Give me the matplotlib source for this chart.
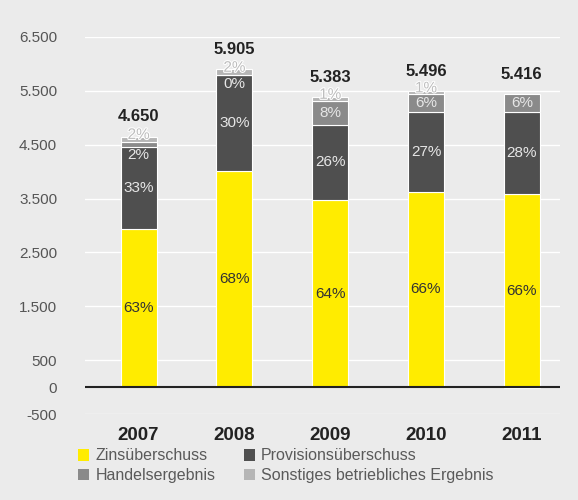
import numpy as np
import matplotlib
matplotlib.use("Agg")
import matplotlib.pyplot as plt
import matplotlib.patheffects as pe

plt.rcParams['font.family'] = ['Liberation Sans', 'DejaVu Sans']

# Ertragskomponenten in Mio. EUR
years = ['2007', '2008', '2009', '2010', '2011']
zins = [2930, 4015, 3465, 3627, 3580]
provision = [1535, 1772, 1410, 1484, 1530]
handel = [93, 10, 440, 330, 326]
sonstige = [92, 108, 68, 55, -20]
totals = [4650, 5905, 5383, 5496, 5416]

series = [
    ('Zinsüberschuss', zins, '#ffec00', '#333333'),
    ('Provisionsüberschuss', provision, '#4f4f4f', '#e6e6e6'),
    ('Handelsergebnis', handel, '#8a8a8a', '#e6e6e6'),
    ('Sonstiges betriebliches Ergebnis', sonstige, '#b5b5b5', '#bdbdbd'),
]

bg = '#ebebeb'
fig = plt.figure(figsize=(5.78, 5.0), dpi=100, facecolor=bg)
ax = fig.add_axes([0.147, 0.172, 0.822, 0.754], facecolor=bg)

x = np.arange(len(years))
w = 0.375
pos_bottom = np.zeros(len(years))
neg_bottom = np.zeros(len(years))
handles = {}

for name, vals, color, tcolor in series:
    vals = np.array(vals, dtype=float)
    bottom = np.where(vals >= 0, pos_bottom, neg_bottom)
    bars = ax.bar(x, vals, w, bottom=bottom, color=color, edgecolor='white',
                  linewidth=0.8, zorder=2, label=name)
    handles[name] = bars
    for i, v in enumerate(vals):
        pct = round(v / totals[i] * 100)
        if v <= 0 and name != 'Handelsergebnis':
            continue
        label = f'{pct}%'
        if name == 'Sonstiges betriebliches Ergebnis':
            ax.annotate(label, (x[i], bottom[i] + v / 2), xytext=(0, 3),
                        textcoords='offset points', ha='center', va='center',
                        fontsize=11, color=tcolor, zorder=4,
                        path_effects=[pe.withStroke(linewidth=1.5, foreground='white')])
        elif v < 200:
            ax.annotate(label, (x[i], bottom[i]), xytext=(0, -1),
                        textcoords='offset points', ha='center', va='top',
                        fontsize=11, color=tcolor, zorder=4)
        else:
            ax.text(x[i], bottom[i] + v / 2, label, ha='center', va='center',
                    fontsize=11, color=tcolor, zorder=4)
    pos_bottom = pos_bottom + np.where(vals >= 0, vals, 0)
    neg_bottom = neg_bottom + np.where(vals < 0, vals, 0)

# Summen über den Balken
for i, t in enumerate(totals):
    ax.annotate(f'{t:,}'.replace(',', '.'), (x[i], max(pos_bottom[i], t)),
                xytext=(0, 9), textcoords='offset points', ha='center', va='bottom',
                fontsize=12, fontweight='bold', color='#222222')

yticks = [-500, 0, 500, 1500, 2500, 3500, 4500, 5500, 6500]
ax.set_ylim(-500, 6500)
ax.set_yticks(yticks)
ax.set_yticklabels([f'{v:,}'.replace(',', '.') for v in yticks], fontsize=11, color='#555555')
ax.set_xlim(-0.56, 4.4)
ax.set_xticks(x)
ax.set_xticklabels(years, fontsize=13.5, fontweight='bold', color='#222222')
ax.tick_params(axis='y', length=0, pad=20)
ax.tick_params(axis='x', length=0, pad=9)
for s in ax.spines.values():
    s.set_visible(False)
for v in yticks:
    if v == 0:
        ax.axhline(0, color='#222222', linewidth=1.5, zorder=3)
    else:
        ax.axhline(v, color='white', linewidth=1.0, zorder=1)

order = ['Zinsüberschuss', 'Handelsergebnis', 'Provisionsüberschuss',
         'Sonstiges betriebliches Ergebnis']
leg = fig.legend([handles[n] for n in order], order, loc='upper left',
                 bbox_to_anchor=(0.135, 0.103), ncol=2, frameon=False,
                 fontsize=11.5, handlelength=0.7, handleheight=0.7,
                 handletextpad=0.4, columnspacing=1.75, labelspacing=0.3,
                 borderpad=0, borderaxespad=0)
for t in leg.get_texts():
    t.set_color('#5a5a5a')
for h in leg.legend_handles:
    h.set_edgecolor('none')

fig.savefig('out.png', dpi=100, facecolor=bg)
